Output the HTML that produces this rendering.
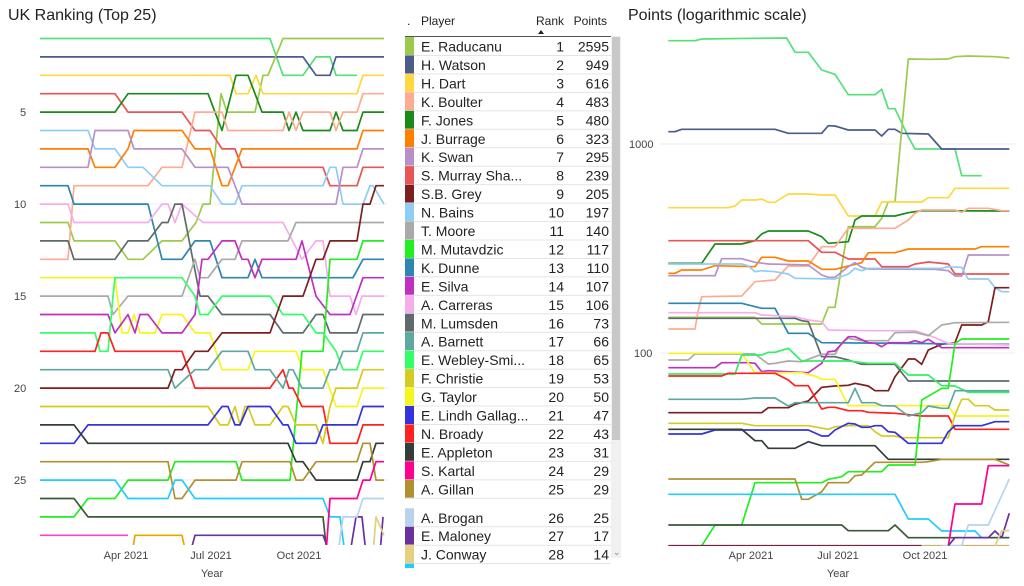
<!DOCTYPE html>
<html><head><meta charset="utf-8"><style>
body{margin:0;width:1024px;height:586px;background:#fff;font-family:"Liberation Sans",sans-serif;overflow:hidden;position:relative}
.t{position:absolute;font-size:16px;color:#222}
svg{position:absolute;left:0;top:0}
</style></head><body>
<div class="t" style="left:8px;top:7px">UK Ranking (Top 25)</div>
<div class="t" style="left:628px;top:7px">Points (logarithmic scale)</div>
<svg id="s" width="1024" height="586" font-family="Liberation Sans, sans-serif">
<defs>
<clipPath id="cl"><rect x="38" y="30" width="350" height="515"/></clipPath>
<clipPath id="cr"><rect x="660" y="30" width="355" height="516"/></clipPath>
</defs>
<g font-size="11" fill="#444">
<text x="20" y="116">5</text><text x="14" y="208">10</text><text x="14" y="300">15</text><text x="14" y="392">20</text><text x="14" y="484">25</text>
<text x="126" y="559" text-anchor="middle">Apr 2021</text><text x="211" y="559" text-anchor="middle">Jul 2021</text><text x="299" y="559" text-anchor="middle">Oct 2021</text>
<text x="212" y="577" text-anchor="middle">Year</text>
<text x="629" y="148">1000</text><text x="634" y="357">100</text>
<text x="751" y="559" text-anchor="middle">Apr 2021</text><text x="838" y="559" text-anchor="middle">Jul 2021</text><text x="925" y="559" text-anchor="middle">Oct 2021</text>
<text x="838" y="577" text-anchor="middle">Year</text>
</g>
<g stroke="#eee" stroke-width="1">
<line x1="38" x2="388" y1="112" y2="112"/><line x1="38" x2="388" y1="204" y2="204"/><line x1="38" x2="388" y1="296" y2="296"/><line x1="38" x2="388" y1="388" y2="388"/><line x1="38" x2="388" y1="480" y2="480"/>
<line x1="660" x2="1015" y1="144" y2="144"/><line x1="660" x2="1015" y1="353" y2="353"/>
</g>
<g id="L" clip-path="url(#cl)" fill="none" stroke-width="1.7" stroke-linejoin="round"></g>
<g id="R" clip-path="url(#cr)" fill="none" stroke-width="1.7" stroke-linejoin="round"></g>
<g id="T" font-size="14" fill="#222"></g>
</svg>
<script>
var NS="http://www.w3.org/2000/svg";
function P(g,c,d){var p=document.createElementNS(NS,"path");p.setAttribute("d",d);p.setAttribute("stroke",c);document.getElementById(g).appendChild(p);}
function L(c,pts){var d="";pts.forEach(function(p,i){d+=(i?"L":"M")+p[0]+","+(38.5+(p[1]-1)*18.4).toFixed(1);});P("L",c,d);}
function R(c,pts,o){var d="";pts.forEach(function(p,i){var y=o?p[1]+840:p[1];d+=(i?"L":"M")+(620+p[0]/3).toFixed(1)+","+(20+y/3).toFixed(1);});P("R",c,d);}
L("#55e07a",[[40,1],[270,1],[283,3],[303,3],[316,2],[330,2],[336,3],[357,3]]);
L("#4a5b8c",[[40,2],[303,2],[316,3],[330,3],[336,2],[384,2]]);
L("#9ccb4c",[[40,11],[68,11],[74,12],[115,12],[128,13],[143,13],[162,12],[182,12],[196,11],[203,10],[210,10],[221,4],[227,5],[255,5],[263,3],[268,3],[283,1],[384,1]]);
L("#ffd740",[[40,3],[230,3],[236,4],[248,4],[256,3],[263,4],[357,4],[363,3],[384,3]]);
L("#e85555",[[40,4],[115,4],[128,5],[182,5],[195,6],[210,6],[222,7],[235,7],[242,8],[323,8],[330,9],[357,9],[363,8],[384,8]]);
L("#1a8a1a",[[40,5],[115,5],[128,4],[208,4],[222,6],[236,3],[248,3],[262,5],[283,5],[289,6],[296,5],[303,6],[330,6],[336,5],[343,6],[357,6],[363,5],[384,5]]);
L("#ffab91",[[40,13],[68,13],[74,9],[148,9],[162,8],[182,8],[195,5],[222,5],[228,6],[283,6],[289,5],[296,6],[303,5],[330,5],[336,6],[343,5],[357,5],[363,4],[384,4]]);
L("#90cdf4",[[40,6],[88,6],[95,7],[115,7],[128,8],[143,8],[162,9],[210,9],[222,10],[235,10],[242,9],[323,9],[330,8],[336,8],[343,10],[363,10],[370,9],[373,9],[384,10]]);
L("#ff8000",[[40,7],[88,7],[95,8],[115,8],[128,7],[134,6],[182,6],[195,7],[210,7],[222,9],[228,9],[242,7],[357,7],[363,6],[384,6]]);
L("#b890c8",[[40,8],[88,8],[95,6],[128,6],[134,7],[182,7],[195,8],[228,8],[242,10],[336,10],[343,8],[357,8],[363,7],[384,7]]);
L("#2e86b0",[[40,9],[68,9],[74,10],[148,10],[162,13],[182,13],[195,12],[210,12],[222,14],[248,14],[255,13],[262,14],[353,14],[363,13],[384,13]]);
L("#f5aeea",[[40,10],[68,10],[74,11],[148,11],[162,10],[168,10],[175,11],[182,10],[203,11],[283,11],[302,13],[316,12],[323,12],[330,15],[350,15],[356,16],[362,15],[384,15]]);
L("#5f6b6b",[[40,12],[68,12],[74,13],[115,13],[128,12],[148,12],[162,11],[168,11],[175,10],[182,10],[200,15],[208,15],[222,16],[270,16],[283,17],[303,17],[316,16],[323,16],[330,17],[357,17],[363,16],[384,16]]);
L("#aaaaaa",[[40,15],[108,15],[113,16],[128,15],[182,15],[195,13],[200,14],[208,14],[222,13],[235,13],[242,12],[288,12],[296,11],[384,11]]);
L("#f5f520",[[40,14],[115,14],[122,17],[128,17],[134,16],[140,17],[155,17],[162,16],[182,16],[195,17],[210,17],[222,19],[248,19],[255,18],[296,18],[303,19],[323,19],[336,21],[357,21],[363,20],[384,20]]);
L("#c030c0",[[40,16],[108,16],[115,17],[128,16],[135,17],[140,16],[148,16],[162,17],[182,17],[195,16],[202,13],[208,13],[222,12],[235,12],[242,13],[248,13],[255,14],[262,13],[296,13],[302,12],[316,15],[330,16],[350,16],[363,14],[384,14]]);
L("#22ee22",[[40,27],[74,27],[88,26],[115,26],[128,25],[168,25],[175,24],[236,24],[242,25],[290,25],[302,18],[323,18],[330,13],[357,13],[363,12],[384,12]]);
L("#33ff66",[[40,17],[95,17],[100,18],[108,18],[113,15],[115,14],[182,14],[195,15],[200,16],[208,16],[222,15],[270,15],[283,16],[303,16],[316,17],[323,17],[336,18],[343,19],[357,19],[363,18],[384,18]]);
L("#ff2020",[[40,18],[95,18],[101,17],[108,17],[115,18],[182,18],[195,20],[270,20],[283,19],[289,20],[293,20],[302,21],[323,21],[330,23],[357,23],[363,22],[384,22]]);
L("#5fa8a0",[[40,19],[168,19],[175,20],[195,19],[208,19],[222,18],[248,18],[255,19],[270,19],[283,20],[289,19],[293,19],[302,20],[323,20],[330,19],[336,19],[343,18],[357,18],[363,17],[384,17]]);
L("#7b1f1f",[[40,20],[168,20],[175,19],[182,19],[195,18],[208,18],[222,17],[270,17],[283,15],[303,15],[316,13],[323,13],[330,12],[357,12],[363,10],[370,10],[376,9],[384,9]]);
L("#d4cc20",[[40,21],[208,21],[220,22],[228,22],[235,21],[240,22],[245,21],[248,21],[255,22],[270,22],[283,21],[288,21],[296,22],[316,22],[323,23],[330,21],[336,20],[357,20],[363,19],[384,19]]);
L("#3333dd",[[40,23],[74,23],[88,22],[208,22],[222,21],[228,21],[235,22],[240,22],[248,21],[270,21],[283,22],[288,22],[296,23],[316,23],[323,22],[357,22],[363,21],[384,21]]);
L("#333d3a",[[40,22],[74,22],[88,23],[288,23],[296,24],[303,24],[316,25],[357,25],[363,24],[370,24],[376,23],[384,23]]);
L("#b09030",[[40,24],[168,24],[175,26],[182,26],[195,25],[236,25],[242,24],[290,24],[296,25],[303,25],[316,24],[357,24],[363,23],[370,23],[376,25],[384,25]]);
L("#22ccff",[[40,25],[115,25],[128,26],[168,26],[175,25],[182,25],[195,26],[323,26],[330,27],[340,27],[345,29]]);
L("#3a5a3a",[[40,26],[74,26],[88,27],[323,27],[327,29]]);
L("#ff44cc",[[40,28],[128,28]]);
L("#e6a800",[[132,29],[135,28],[182,28],[186,29]]);
L("#6a30a0",[[190,29],[195,28],[323,28],[330,29],[350,29],[356,27],[362,27],[366,29],[380,29],[383,27]]);
L("#ff0090",[[326,29],[330,26],[357,26],[363,25],[370,25],[376,24],[384,24]]);
L("#b8d4ec",[[338,29],[343,27],[357,27],[363,26],[384,26]]);
L("#e0d080",[[373,29],[376,27],[384,28]]);
R("#55e07a",[[145,62],[225,62],[245,57],[400,55],[500,54],[525,97],[565,97],[605,150],[645,163],[685,224],[765,224],[785,208],[805,266],[825,266],[865,350],[885,387],[1005,387],[1025,467],[1085,467]]);
R("#4a5b8c",[[145,335],[165,335],[185,328],[465,328],[505,340],[605,340],[625,317],[645,318],[685,330],[765,330],[785,348],[805,328],[825,328],[845,340],[925,342],[965,387],[1168,387]]);
R("#9ccb4c",[[145,892],[405,892],[425,912],[605,912],[625,862],[645,862],[685,620],[765,620],[785,595],[805,545],[825,545],[865,117],[925,118],[985,117],[1005,110],[1045,108],[1125,110],[1168,114]]);
R("#ffd740",[[145,563],[325,563],[345,558],[365,540],[405,540],[425,537],[445,547],[465,547],[505,522],[565,522],[605,525],[645,525],[685,588],[765,588],[785,546],[905,546],[925,533],[985,533],[1005,505],[1168,505]]);
R("#1a8a1a",[[145,730],[245,730],[285,672],[365,672],[405,662],[425,642],[445,633],[565,633],[605,650],[625,670],[685,665],[705,600],[725,588],[825,588],[865,578],[905,572],[1168,573]]);
R("#ffab91",[[145,927],[225,927],[235,870],[245,830],[365,828],[405,785],[465,780],[505,738],[565,738],[605,680],[645,680],[685,625],[825,625],[865,600],[885,580],[905,570],[1005,570],[1025,577],[1045,565],[1105,565],[1145,572],[1168,572]]);
R("#e85555",[[145,662],[565,662],[605,697],[645,697],[685,717],[765,717],[785,740],[865,740],[885,732],[925,726],[985,732],[1005,762],[1168,762]]);
R("#ff8000",[[145,760],[165,760],[185,750],[245,750],[285,737],[405,740],[425,712],[465,712],[505,723],[565,723],[605,748],[645,748],[685,738],[725,728],[745,698],[825,698],[865,687],[1065,687],[1085,680],[1168,680]]);
R("#b890c8",[[145,767],[285,767],[305,716],[365,716],[405,727],[445,732],[565,735],[605,765],[625,772],[645,772],[685,740],[705,728],[725,742],[745,747],[945,748],[985,752],[1005,768],[1025,768],[1045,705],[1168,705]]);
R("#90cdf4",[[145,732],[365,732],[385,738],[405,755],[425,752],[465,755],[505,762],[525,775],[645,777],[685,762],[705,745],[725,752],[745,745],[965,745],[985,740],[1025,742],[1045,777],[1105,777],[1125,803],[1145,815],[1168,815]]);
R("#7b1f1f",[[145,338],[425,338],[445,323],[505,323],[525,313],[565,303],[605,262],[645,258],[685,256],[705,250],[745,258],[765,272],[805,272],[825,230],[865,177],[885,177],[905,193],[925,150],[965,133],[1005,128],[1025,75],[1085,75],[1105,65],[1125,-37],[1168,-37]],1);
R("#2e86b0",[[145,10],[365,10],[425,25],[465,25],[505,100],[565,100],[605,128],[1168,133]],1);
R("#f5aeea",[[145,38],[405,38],[425,45],[525,50],[565,60],[605,65],[625,90],[745,92],[885,92],[925,105],[985,130],[1065,132],[1168,135]],1);
R("#5f6b6b",[[145,55],[525,55],[545,62],[565,65],[605,170],[645,170],[685,180],[725,193],[825,193],[865,243],[1168,243]],1);
R("#aaaaaa",[[145,180],[205,180],[225,162],[405,162],[445,192],[465,190],[505,183],[545,185],[605,163],[645,163],[665,128],[685,115],[725,122],[805,122],[825,98],[885,97],[925,107],[965,75],[1005,68],[1168,67]],1);
R("#c030c0",[[145,203],[285,203],[305,188],[385,188],[405,190],[425,215],[445,212],[565,218],[605,190],[625,155],[645,153],[685,110],[705,110],[745,128],[765,130],[785,140],[805,128],[865,128],[885,122],[905,128],[925,118],[965,143],[1168,143]],1);
R("#f5f520",[[145,160],[365,160],[405,218],[545,218],[585,228],[605,238],[645,238],[685,317],[985,317],[1005,348],[1168,348]],1);
R("#33ee66",[[145,222],[345,222],[365,165],[425,165],[445,157],[465,157],[505,145],[545,183],[685,183],[745,190],[825,190],[865,225],[925,225],[965,257],[1005,258],[1045,277],[1168,277]],1);
R("#ff2020",[[145,228],[305,228],[325,220],[465,220],[505,240],[525,257],[565,257],[605,327],[625,322],[645,322],[685,332],[725,332],[745,337],[825,340],[905,348],[985,348],[1005,388],[1168,388]],1);
R("#5fa8a0",[[145,298],[365,298],[405,294],[465,294],[505,318],[525,308],[685,308],[705,265],[725,308],[765,308],[785,317],[825,318],[865,348],[905,338],[925,318],[965,325],[985,325],[1005,272],[1168,272]],1);
R("#d4cc20",[[145,370],[365,370],[405,377],[565,377],[625,388],[645,380],[685,377],[745,377],[765,395],[785,408],[825,408],[845,413],[985,413],[1005,345],[1025,298],[1045,298],[1065,317],[1105,317],[1125,330],[1168,330]],1);
R("#3333dd",[[145,402],[245,402],[285,390],[565,390],[605,408],[625,408],[645,390],[685,370],[705,372],[725,382],[745,382],[765,377],[785,377],[805,395],[825,397],[865,430],[965,430],[985,395],[1005,377],[1085,377],[1125,365],[1168,365]],1);
R("#333d3a",[[145,388],[365,388],[405,422],[425,422],[445,445],[525,445],[565,425],[605,437],[765,437],[805,478],[1168,478]],1);
R("#22ee22",[[245,737],[285,675],[365,675],[405,548],[605,548],[625,538],[665,530],[685,515],[785,515],[805,495],[885,495],[905,300],[965,265],[985,265],[1005,130],[1025,117],[1168,117]],1);
R("#b09030",[[145,537],[525,537],[545,598],[565,598],[605,575],[625,548],[685,548],[705,527],[725,525],[765,487],[905,487],[925,485],[965,478],[1125,478],[1168,495]],1);
R("#22ccff",[[145,583],[825,583],[865,657],[925,657],[965,693],[1065,693],[1085,713],[1168,713]],1);
R("#3a5a3a",[[145,675],[665,675],[685,692],[805,692],[825,675],[865,713],[1168,713]],1);
R("#7b1f3f",[[145,737],[905,737]],1);
R("#d0b070",[[905,737],[1168,737]],1);
R("#ff0090",[[985,737],[1005,612],[1085,612],[1105,497],[1168,497]],1);
R("#b8d4ec",[[965,737],[1025,737],[1045,675],[1105,675],[1168,537]],1);
R("#6a30a0",[[985,737],[1005,713],[1105,713],[1125,693],[1145,713],[1168,640]],1);
R("#e0d080",[[1125,737],[1145,692],[1168,692]],1);
var rows=[["E. Raducanu",1,2595,"#9ccb4c"],["H. Watson",2,949,"#4a5b8c"],["H. Dart",3,616,"#ffd740"],["K. Boulter",4,483,"#ffab91"],["F. Jones",5,480,"#1a8a1a"],["J. Burrage",6,323,"#ff8000"],["K. Swan",7,295,"#b890c8"],["S. Murray Sha...",8,239,"#e85555"],["S.B. Grey",9,205,"#7b1f1f"],["N. Bains",10,197,"#90cdf4"],["T. Moore",11,140,"#aaaaaa"],["M. Mutavdzic",12,117,"#22ee22"],["K. Dunne",13,110,"#2e86b0"],["E. Silva",14,107,"#c030c0"],["A. Carreras",15,106,"#f5aeea"],["M. Lumsden",16,73,"#5f6b6b"],["A. Barnett",17,66,"#5fa8a0"],["E. Webley-Smi...",18,65,"#33ff66"],["F. Christie",19,53,"#d4cc20"],["G. Taylor",20,50,"#f5f520"],["E. Lindh Gallag...",21,47,"#3333dd"],["N. Broady",22,43,"#ff2020"],["E. Appleton",23,31,"#333d3a"],["S. Kartal",24,29,"#ff0090"],["A. Gillan",25,29,"#b09030"],["A. Brogan",26,25,"#b8d4ec"],["E. Maloney",27,17,"#6a30a0"],["J. Conway",28,14,"#e6d080"],["A. Pitcher",29,12,"#22ccff"]];
var T=document.getElementById("T");
function E(tag,a,txt){var e=document.createElementNS(NS,tag);for(var k in a)e.setAttribute(k,a[k]);if(txt!=null)e.textContent=txt;T.appendChild(e);return e;}
E("rect",{x:611,y:36,width:10,height:522,fill:"#f0f0f0"});
E("rect",{x:612,y:37,width:8,height:403,fill:"#c8c8c8"});
E("text",{x:407,y:25,"font-size":"12"},".");
E("text",{x:421,y:25,"font-size":"12"},"Player");
E("text",{x:564,y:25,"font-size":"12","text-anchor":"end"},"Rank");
E("text",{x:607,y:25,"font-size":"12","text-anchor":"end"},"Points");
E("path",{d:"M538,34 L544,34 L541,30 Z",fill:"#222"});
E("line",{x1:405,x2:611,y1:36.5,y2:36.5,stroke:"#555"});
rows.forEach(function(r,i){var top=37+i*18.45+(i>=25?10:0);if(top>568)return;
E("rect",{x:405,y:top,width:9,height:18,fill:r[3]});
E("line",{x1:405,x2:611,y1:top+18.5,y2:top+18.5,stroke:"#e4e4e4"});
E("text",{x:421,y:top+14.5},r[0]);E("text",{x:564,y:top+14.5,"text-anchor":"end"},r[1]);E("text",{x:609,y:top+14.5,"text-anchor":"end"},r[2]);});
E("rect",{x:404,y:568,width:220,height:20,fill:"#fff"});
E("text",{x:613,y:555,"font-size":"9",fill:"#888"},"⌄");
</script>
</body></html>
